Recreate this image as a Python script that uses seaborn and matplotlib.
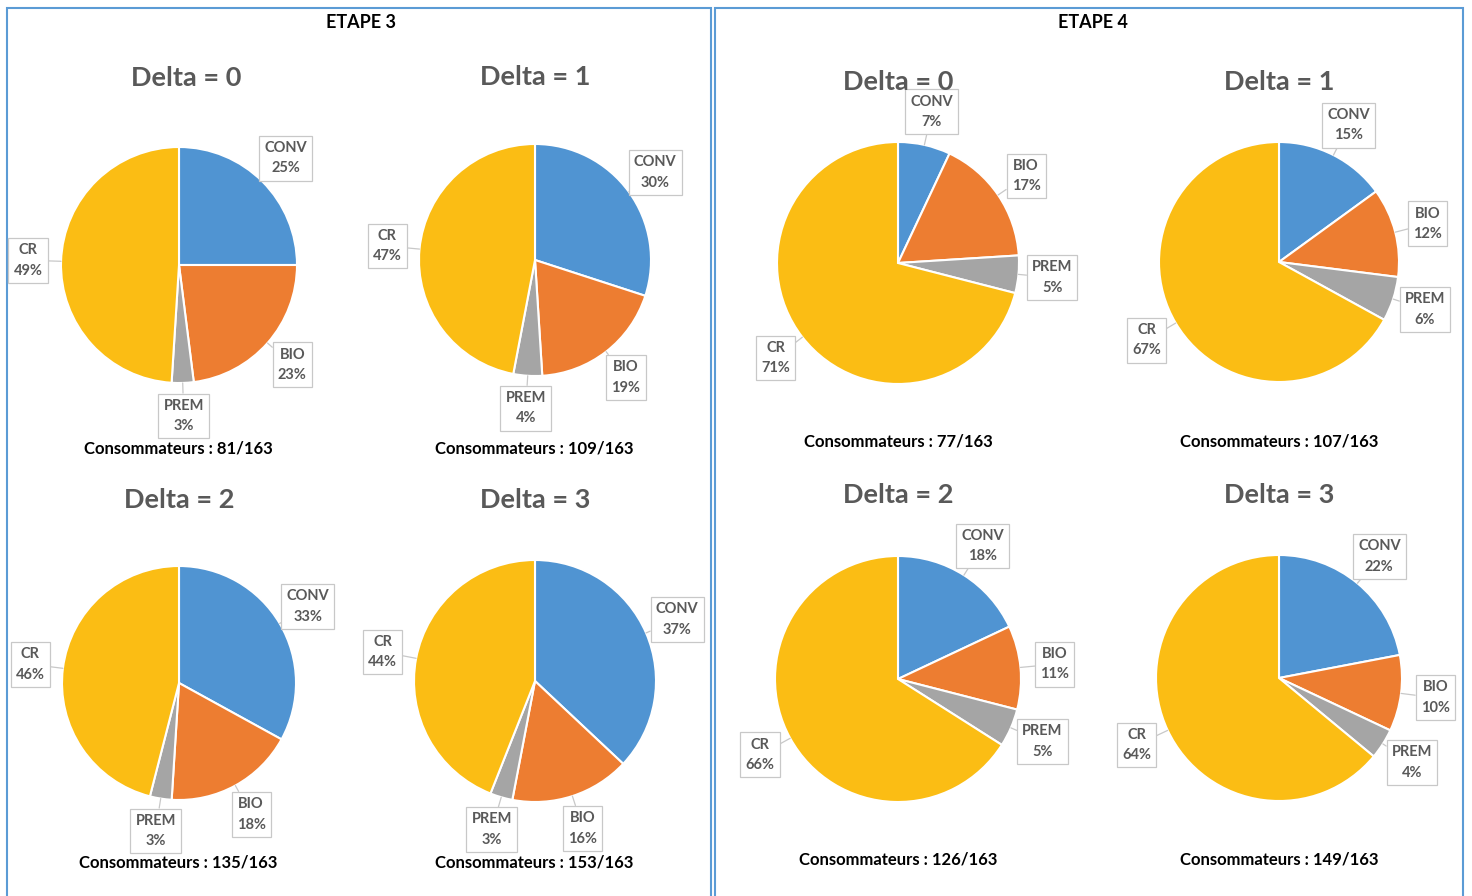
import numpy as np
import seaborn as sns
import matplotlib.pyplot as plt
from matplotlib.patches import Rectangle

# Données (parts en %)
categories = ['CONV', 'BIO', 'PREM', 'CR']
deltas = ['Delta = 0', 'Delta = 1', 'Delta = 2', 'Delta = 3']

etape3_d0 = [25, 23, 3, 49]
etape3_d1 = [30, 19, 4, 47]
etape3_d2 = [33, 18, 3, 46]
etape3_d3 = [37, 16, 3, 44]

etape4_d0 = [7, 17, 5, 71]
etape4_d1 = [15, 12, 6, 67]
etape4_d2 = [18, 11, 5, 66]
etape4_d3 = [22, 10, 4, 64]

consommateurs_e3 = [81, 109, 135, 153]
consommateurs_e4 = [77, 107, 126, 149]
total = 163

colors = ['#5094D2', '#ED7D31', '#A5A5A5', '#FBBD14']

sns.set_theme(style='white')
plt.rcParams['font.family'] = ['Lato', 'DejaVu Sans']

W, H = 1472, 896
fig = plt.figure(figsize=(W / 100, H / 100), dpi=100)
ax = fig.add_axes([0, 0, 1, 1])

# mise en page (pixels, y vers le bas)
pies = [
    (etape3_d0, (179, 265), 118, (186, 78), (178, 448), consommateurs_e3[0], deltas[0]),
    (etape3_d1, (535, 260), 116, (535, 77), (534, 448), consommateurs_e3[1], deltas[1]),
    (etape3_d2, (179, 683), 117, (179, 500), (178, 862), consommateurs_e3[2], deltas[2]),
    (etape3_d3, (535, 681), 121, (535, 500), (534, 862), consommateurs_e3[3], deltas[3]),
    (etape4_d0, (898, 263), 121, (898, 82), (898, 441), consommateurs_e4[0], deltas[0]),
    (etape4_d1, (1279, 262), 120, (1279, 82), (1279, 441), consommateurs_e4[1], deltas[1]),
    (etape4_d2, (898, 679), 123, (898, 495), (898, 859), consommateurs_e4[2], deltas[2]),
    (etape4_d3, (1279, 678), 123, (1279, 495), (1279, 859), consommateurs_e4[3], deltas[3]),
]

for vals, (cx, cy), r, (tx, ty), (sx, sy), n, title in pies:
    cyy = H - cy
    ax.pie(vals, colors=colors, center=(cx, cyy), radius=r, startangle=90,
           counterclock=False, wedgeprops=dict(edgecolor='white', linewidth=1.5))
    # étiquettes avec bulles
    cum = 0
    for cat, v in zip(categories, vals):
        mid = np.deg2rad(90 - (cum + v / 2) * 3.6)
        cum += v
        ex, ey = cx + r * np.cos(mid), cyy + r * np.sin(mid)
        lx, ly = cx + 1.28 * r * np.cos(mid), cyy + 1.28 * r * np.sin(mid)
        ax.annotate(f'{cat}\n{v}%', xy=(ex, ey), xytext=(lx, ly),
                    ha='center', va='center', fontsize=10.5, fontweight='bold',
                    color='#595959', linespacing=1.6,
                    bbox=dict(boxstyle='square,pad=0.35', fc='white', ec='#C8C8C8', lw=0.9),
                    arrowprops=dict(arrowstyle='-', color='#C8C8C8', lw=0.9,
                                    shrinkA=0, shrinkB=0))
    ax.text(tx, H - ty, title, ha='center', va='center', fontsize=19.5,
            fontweight='bold', color='#595959')
    ax.text(sx, H - sy, f'Consommateurs : {n}/{total}', ha='center', va='center',
            fontsize=12, fontweight='bold', color='black')

ax.text(361, H - 22, 'ETAPE 3', ha='center', va='center', fontsize=13,
        fontweight='bold', color='black')
ax.text(1093, H - 22, 'ETAPE 4', ha='center', va='center', fontsize=13,
        fontweight='bold', color='black')

# cadres des deux étapes
for x0, x1 in [(7, 711), (715, 1463)]:
    ax.add_patch(Rectangle((x0, -20), x1 - x0, H - 8 + 20, fill=False,
                           ec='#5B9BD5', lw=1.5))

ax.set_xlim(0, W)
ax.set_ylim(0, H)
ax.set_aspect('equal')
ax.axis('off')

fig.savefig('out.png', dpi=100)
